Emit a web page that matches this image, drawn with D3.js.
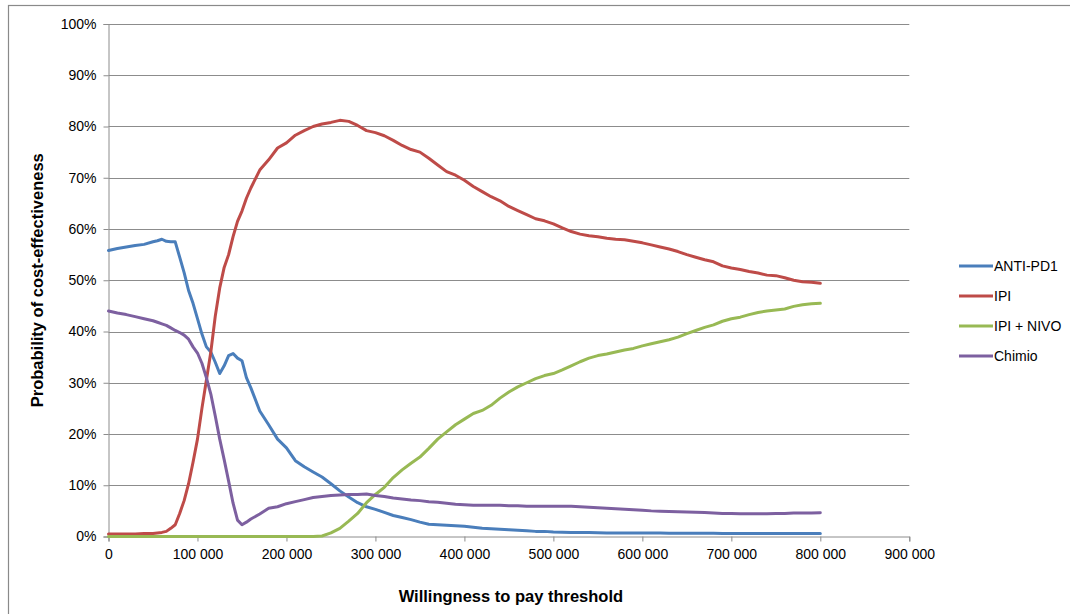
<!DOCTYPE html>
<html>
<head>
<meta charset="utf-8">
<script src="https://cdn.jsdelivr.net/npm/d3@7/dist/d3.min.js"></script>
<style>
  html, body { margin: 0; padding: 0; background: #fff; }
  svg { display: block; }
  text { font-family: "Liberation Sans", Arial, sans-serif; fill: #000; }
</style>
</head>
<body>
<svg id="chart" width="1070" height="614"></svg>
<script>
// Willingness-to-pay thresholds (in thousands)
const wtpK = [0,10,20,30,40,50,55,60,65,70,75,80,85,90,95,100,105,110,115,120,125,130,135,140,145,150,155,160,
  170,180,190,200,210,220,230,240,250,260,270,280,290,300,310,320,330,340,350,360,370,380,390,400,
  410,420,430,440,450,460,470,480,490,500,510,520,530,540,550,560,570,580,590,600,
  610,620,630,640,650,660,670,680,690,700,710,720,730,740,750,760,770,780,790,800];

const antiPD1 = [55.8,56.2,56.5,56.8,57.0,57.5,57.7,58.0,57.6,57.5,57.5,54.5,51.5,48.0,45.5,42.5,39.5,37.0,36.0,34.0,31.8,33.3,35.3,35.7,34.8,34.3,31.0,29.0,
  24.5,21.8,19.0,17.3,14.8,13.6,12.6,11.6,10.3,8.9,7.7,6.6,5.8,5.3,4.7,4.1,3.7,3.3,2.8,2.4,2.3,2.2,2.1,2.0,
  1.8,1.6,1.5,1.4,1.3,1.2,1.1,1.0,1.0,0.9,0.85,0.8,0.8,0.8,0.75,0.7,0.7,0.7,0.7,0.7,
  0.7,0.7,0.65,0.65,0.65,0.65,0.65,0.65,0.6,0.6,0.6,0.6,0.6,0.6,0.6,0.6,0.6,0.6,0.6,0.6];

const ipi = [0.5,0.5,0.5,0.5,0.6,0.6,0.7,0.8,1.0,1.6,2.3,4.5,7.0,10.3,14.5,19.0,25.0,30.5,36.0,43.0,48.5,52.5,55.0,58.5,61.5,63.5,66.0,68.0,
  71.5,73.5,75.8,76.8,78.3,79.2,80.0,80.5,80.8,81.2,81.0,80.2,79.2,78.8,78.2,77.3,76.3,75.5,75.0,73.8,72.5,71.2,70.5,69.5,
  68.3,67.3,66.3,65.5,64.4,63.6,62.8,62.0,61.6,61.0,60.2,59.5,59.0,58.7,58.5,58.2,58.0,57.9,57.6,57.3,
  56.9,56.5,56.1,55.6,55.0,54.5,54.0,53.6,52.8,52.4,52.1,51.7,51.4,51.0,50.9,50.5,50.0,49.7,49.6,49.4];

const ipiNivo = [0,0,0,0,0,0,0,0,0,0,0,0,0,0,0,0,0,0,0,0,0,0,0,0,0,0,0,0,
  0,0,0,0,0,0,0,0.1,0.7,1.6,3.0,4.5,6.6,8.2,9.6,11.5,13.0,14.3,15.5,17.2,19.0,20.4,21.8,22.9,
  24.0,24.6,25.6,27.0,28.2,29.2,30.0,30.8,31.4,31.8,32.5,33.3,34.1,34.8,35.3,35.6,36.0,36.4,36.7,37.2,
  37.6,38.0,38.4,38.9,39.6,40.2,40.8,41.3,42.0,42.5,42.8,43.3,43.7,44.0,44.2,44.4,44.9,45.2,45.4,45.5];

const chimio = [44.0,43.6,43.3,42.9,42.5,42.1,41.8,41.5,41.2,40.7,40.2,39.8,39.3,38.5,37.0,35.8,33.8,31.0,27.8,23.5,19.0,15.0,10.8,6.5,3.2,2.3,2.8,3.4,
  4.4,5.5,5.8,6.4,6.8,7.2,7.6,7.8,8.0,8.1,8.2,8.2,8.3,8.0,7.8,7.5,7.3,7.1,7.0,6.8,6.7,6.5,6.3,6.2,
  6.1,6.1,6.1,6.1,6.0,6.0,5.9,5.9,5.9,5.9,5.9,5.9,5.8,5.7,5.6,5.5,5.4,5.3,5.2,5.1,
  5.0,4.95,4.9,4.85,4.8,4.75,4.7,4.6,4.5,4.5,4.45,4.45,4.45,4.45,4.5,4.5,4.6,4.6,4.6,4.65];

const seriesNames = ["ANTI-PD1", "IPI", "IPI + NIVO", "Chimio"];
const seriesColors = ["#4A7EBB", "#BE4B48", "#98B954", "#7D60A0"];
const xTickValues = [0,100,200,300,400,500,600,700,800,900];
const xTickLabels = ["0","100 000","200 000","300 000","400 000","500 000","600 000","700 000","800 000","900 000"];
const yTickValues = [0,10,20,30,40,50,60,70,80,90,100];
const yTickLabels = ["0%","10%","20%","30%","40%","50%","60%","70%","80%","90%","100%"];

const svg = d3.select("#chart");
const gridColor = "#8c8c8c";

// outer chart border
svg.append("rect").attr("x", 8.5).attr("y", 5.5).attr("width", 1200).attr("height", 700)
  .attr("fill", "#fff").attr("stroke", "#8a8a8a").attr("stroke-width", 1.2);

const plotLeft = 108.5, plotRight = 909.3, plotTop = 24, plotBottom = 536.5;
const x = d3.scaleLinear().domain([0, 900]).range([plotLeft, plotRight]);
const y = d3.scaleLinear().domain([0, 100]).range([plotBottom, plotTop]);

// gridlines
svg.append("g").selectAll("line").data(yTickValues.filter(v => v > 0)).join("line")
  .attr("x1", plotLeft).attr("x2", plotRight)
  .attr("y1", d => Math.round(y(d)) + 0.5).attr("y2", d => Math.round(y(d)) + 0.5)
  .attr("stroke", gridColor).attr("stroke-width", 1);

// y axis
const yAxis = d3.axisLeft(y).tickValues(yTickValues).tickSize(5).tickPadding(7)
  .tickFormat((d, i) => yTickLabels[i]);
const gy = svg.append("g").attr("transform", `translate(${plotLeft},0)`).call(yAxis);
gy.select(".domain").attr("stroke", gridColor);
gy.selectAll(".tick line").attr("stroke", gridColor);
gy.selectAll(".tick text").style("font-size", "14px").style("font-family", "Liberation Sans, Arial, sans-serif").attr("fill", "#000");

// x axis
const xAxis = d3.axisBottom(x).tickValues(xTickValues).tickSize(5).tickPadding(8)
  .tickFormat((d, i) => xTickLabels[i]);
const gx = svg.append("g").attr("transform", `translate(0,${plotBottom})`).call(xAxis);
gx.select(".domain").attr("stroke", gridColor);
gx.selectAll(".tick line").attr("stroke", gridColor);
gx.selectAll(".tick text").style("font-size", "14px").style("font-family", "Liberation Sans, Arial, sans-serif").attr("fill", "#000");

// lines
const allSeries = [antiPD1, ipi, ipiNivo, chimio];
const line = d3.line().x((d, i) => x(wtpK[i])).y(d => y(d)).curve(d3.curveLinear);
svg.append("g").selectAll("path").data(allSeries).join("path")
  .attr("d", d => line(d))
  .attr("fill", "none")
  .attr("stroke", (d, i) => seriesColors[i])
  .attr("stroke-width", 3)
  .attr("stroke-linejoin", "round")
  .attr("stroke-linecap", "round");

// axis titles
svg.append("text")
  .attr("x", (plotLeft + plotRight) / 2 + 2).attr("y", 602)
  .attr("text-anchor", "middle")
  .style("font-size", "16.5px").style("font-weight", "bold")
  .text("Willingness to pay threshold");

svg.append("text")
  .attr("transform", `translate(43,${(plotTop + plotBottom) / 2}) rotate(-90)`)
  .attr("text-anchor", "middle")
  .style("font-size", "16.5px").style("font-weight", "bold")
  .text("Probability of cost-effectiveness");

// legend
const legendY = [266, 296, 326, 356];
const lg = svg.append("g");
seriesNames.forEach((name, i) => {
  lg.append("line").attr("x1", 959).attr("x2", 993)
    .attr("y1", legendY[i]).attr("y2", legendY[i])
    .attr("stroke", seriesColors[i]).attr("stroke-width", 3);
  lg.append("text").attr("x", 994).attr("y", legendY[i]).attr("dy", "0.35em")
    .style("font-size", "14px").text(name);
});
</script>
</body>
</html>
